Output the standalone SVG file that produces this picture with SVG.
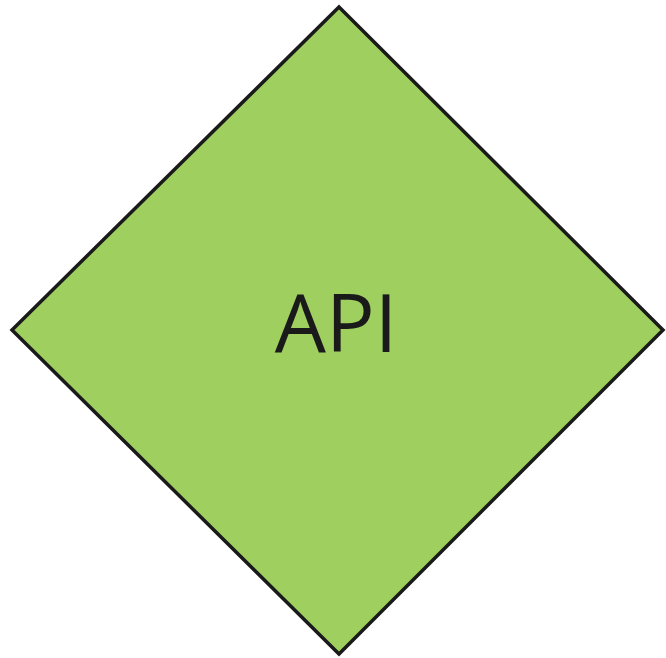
<svg xmlns="http://www.w3.org/2000/svg" width="666" height="658" viewBox="0 0 666 658">
  <style>
    .decision { fill: #9ecf5f; stroke: #1a1a1a; stroke-width: 3.5; stroke-linejoin: miter; }
    .label { font-family: "Open Sans", "Noto Sans", sans-serif; font-size: 81px; fill: #1a1a1a; text-anchor: middle; }
  </style>
  <rect width="666" height="658" fill="#ffffff"/>
  <g id="api">
    <polygon class="decision" points="339,7 663,330 339,654 12,330"/>
    <text class="label" x="336" y="352">API</text>
  </g>
  <g id="connectors"/>
</svg>
